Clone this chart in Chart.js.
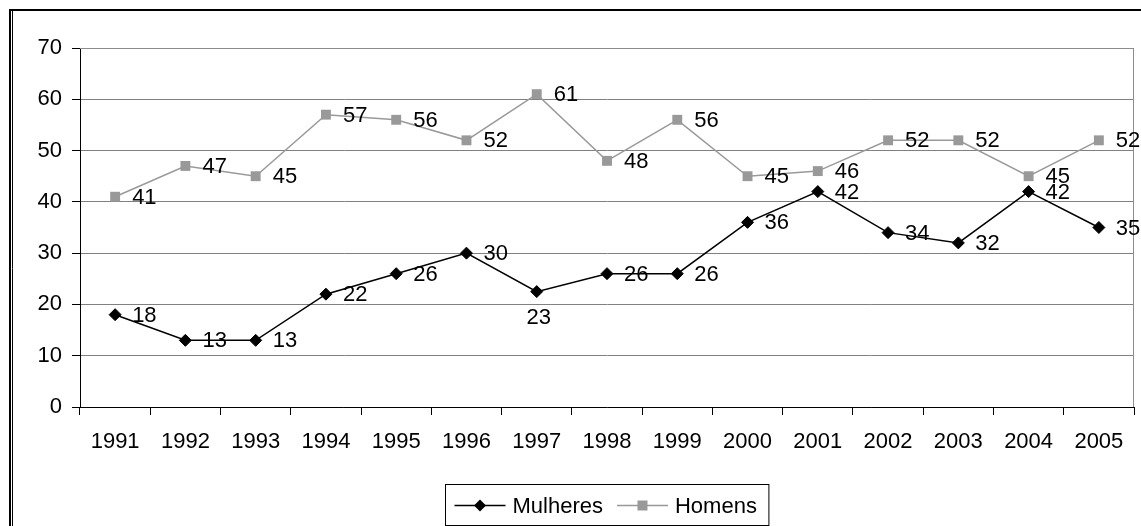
<!DOCTYPE html>
<html>
<head>
<meta charset="utf-8">
<script src="https://cdn.jsdelivr.net/npm/chart.js@4/dist/chart.umd.min.js"></script>
<style>
  html, body { margin: 0; padding: 0; background: #fff; }
  canvas { display: block; }
</style>
</head>
<body>
<canvas id="chart" width="1141" height="526"></canvas>
<script>
const years = ['1991', '1992', '1993', '1994', '1995', '1996', '1997', '1998', '1999', '2000', '2001', '2002', '2003', '2004', '2005'];
const mulheres = [18, 13, 13, 22, 26, 30, 22.5, 26, 26, 36, 42, 34, 32, 42, 35];
const homens = [41, 47, 45, 57, 56, 52, 61, 48, 56, 45, 46, 52, 52, 45, 52];
const yTicks = [0, 10, 20, 30, 40, 50, 60, 70];

const FONT = '22px "Liberation Sans", Arial, sans-serif';

// labels next to each point, the 1997 woman's value sits under its marker
const valueLabels = {
  id: 'valueLabels',
  afterDatasetsDraw(chart) {
    const ctx = chart.ctx;
    ctx.save();
    ctx.font = FONT;
    ctx.fillStyle = '#000';
    chart.data.datasets.forEach((ds, i) => {
      chart.getDatasetMeta(i).data.forEach((pt, j) => {
        const text = String(Math.round(ds.data[j]));
        if (i === 0 && j === 6) {
          ctx.textAlign = 'center';
          ctx.textBaseline = 'middle';
          ctx.fillText(text, pt.x + 2, pt.y + 26);
        } else {
          ctx.textAlign = 'left';
          ctx.textBaseline = 'middle';
          ctx.fillText(text, pt.x + 17, pt.y + 1);
        }
      });
    });
    ctx.restore();
  }
};

// plot border, outer frame and boxed legend
const frame = {
  id: 'frame',
  beforeDatasetsDraw(chart) {
    const {ctx, chartArea: a} = chart;
    ctx.save();
    ctx.strokeStyle = '#8c8c8c';
    ctx.lineWidth = 1;
    ctx.beginPath();
    ctx.moveTo(a.left, a.top + 0.5);
    ctx.lineTo(a.right - 0.5, a.top + 0.5);
    ctx.lineTo(a.right - 0.5, a.bottom);
    ctx.stroke();
    ctx.restore();
  },
  afterDraw(chart) {
    const {ctx, chartArea: a} = chart;
    ctx.save();
    ctx.strokeStyle = '#000';
    ctx.lineWidth = 2;
    ctx.beginPath();
    ctx.moveTo(10, 526);
    ctx.lineTo(10, 10);
    ctx.lineTo(1141, 10);
    ctx.stroke();
    ctx.lineWidth = 1;
    ctx.beginPath();
    ctx.moveTo(12.5, 11);
    ctx.lineTo(12.5, 526);
    ctx.stroke();

    ctx.font = FONT;
    const items = chart.data.datasets.map(ds => ({ds, w: ctx.measureText(ds.label).width}));
    const lineLen = 51;
    const total = 9 + items.reduce((s, it) => s + lineLen + 7 + it.w, 0) + 14 + 12;
    const left = Math.round((a.left + a.right) / 2 - total / 2) + 0.5;
    const top = 484.5;
    ctx.strokeStyle = '#000';
    ctx.strokeRect(left, top, total, 41);
    let x = left + 9;
    const y = top + 21;
    items.forEach((it, k) => {
      ctx.strokeStyle = it.ds.borderColor;
      ctx.lineWidth = 1.5;
      ctx.beginPath();
      ctx.moveTo(x, y);
      ctx.lineTo(x + lineLen, y);
      ctx.stroke();
      ctx.fillStyle = it.ds.pointBackgroundColor;
      const cx = x + lineLen / 2;
      ctx.beginPath();
      if (it.ds.pointStyle === 'rectRot') {
        ctx.moveTo(cx, y - 6);
        ctx.lineTo(cx + 6, y);
        ctx.lineTo(cx, y + 6);
        ctx.lineTo(cx - 6, y);
        ctx.closePath();
      } else {
        ctx.rect(cx - 5, y - 5, 10, 10);
      }
      ctx.fill();
      ctx.fillStyle = '#000';
      ctx.textAlign = 'left';
      ctx.textBaseline = 'middle';
      ctx.fillText(it.ds.label, x + lineLen + 7, y + 1);
      x += lineLen + 7 + it.w + 14;
    });
    ctx.restore();
  }
};

new Chart(document.getElementById('chart'), {
  type: 'line',
  data: {
    labels: years,
    datasets: [
      {
        label: 'Mulheres',
        data: mulheres,
        borderColor: '#000',
        borderWidth: 1.5,
        pointStyle: 'rectRot',
        pointRadius: 6,
        pointBorderWidth: 1,
        pointBackgroundColor: '#000',
        pointBorderColor: '#000',
        tension: 0,
      },
      {
        label: 'Homens',
        data: homens,
        borderColor: '#999',
        borderWidth: 1.5,
        pointStyle: 'rect',
        pointRadius: 7,
        pointBorderWidth: 0,
        pointBackgroundColor: '#999',
        pointBorderColor: '#999',
        tension: 0,
      },
    ]
  },
  options: {
    responsive: false,
    animation: false,
    layout: {padding: {top: 48, right: 3, left: 0, bottom: 0}},
    scales: {
      x: {
        offset: true,
        grid: {offset: true, drawOnChartArea: false, drawTicks: true, tickLength: 8, color: '#000'},
        border: {color: '#000', width: 1},
        ticks: {color: '#000', font: {family: '"Liberation Sans", Arial, sans-serif', size: 22}, padding: 14, maxRotation: 0, autoSkip: false},
        afterFit: scale => { scale.height = 119; },
      },
      y: {
        min: yTicks[0],
        max: yTicks[yTicks.length - 1],
        afterBuildTicks: scale => { scale.ticks = yTicks.map(v => ({value: v})); },
        grid: {color: '#808080', tickColor: '#000', tickLength: 8},
        border: {color: '#000', width: 1},
        ticks: {color: '#000', font: {family: '"Liberation Sans", Arial, sans-serif', size: 22}, padding: 10},
        afterFit: scale => { scale.width = 80; },
      }
    },
    plugins: {
      legend: {display: false},
      tooltip: {enabled: false},
    }
  },
  plugins: [valueLabels, frame]
});
</script>
</body>
</html>
